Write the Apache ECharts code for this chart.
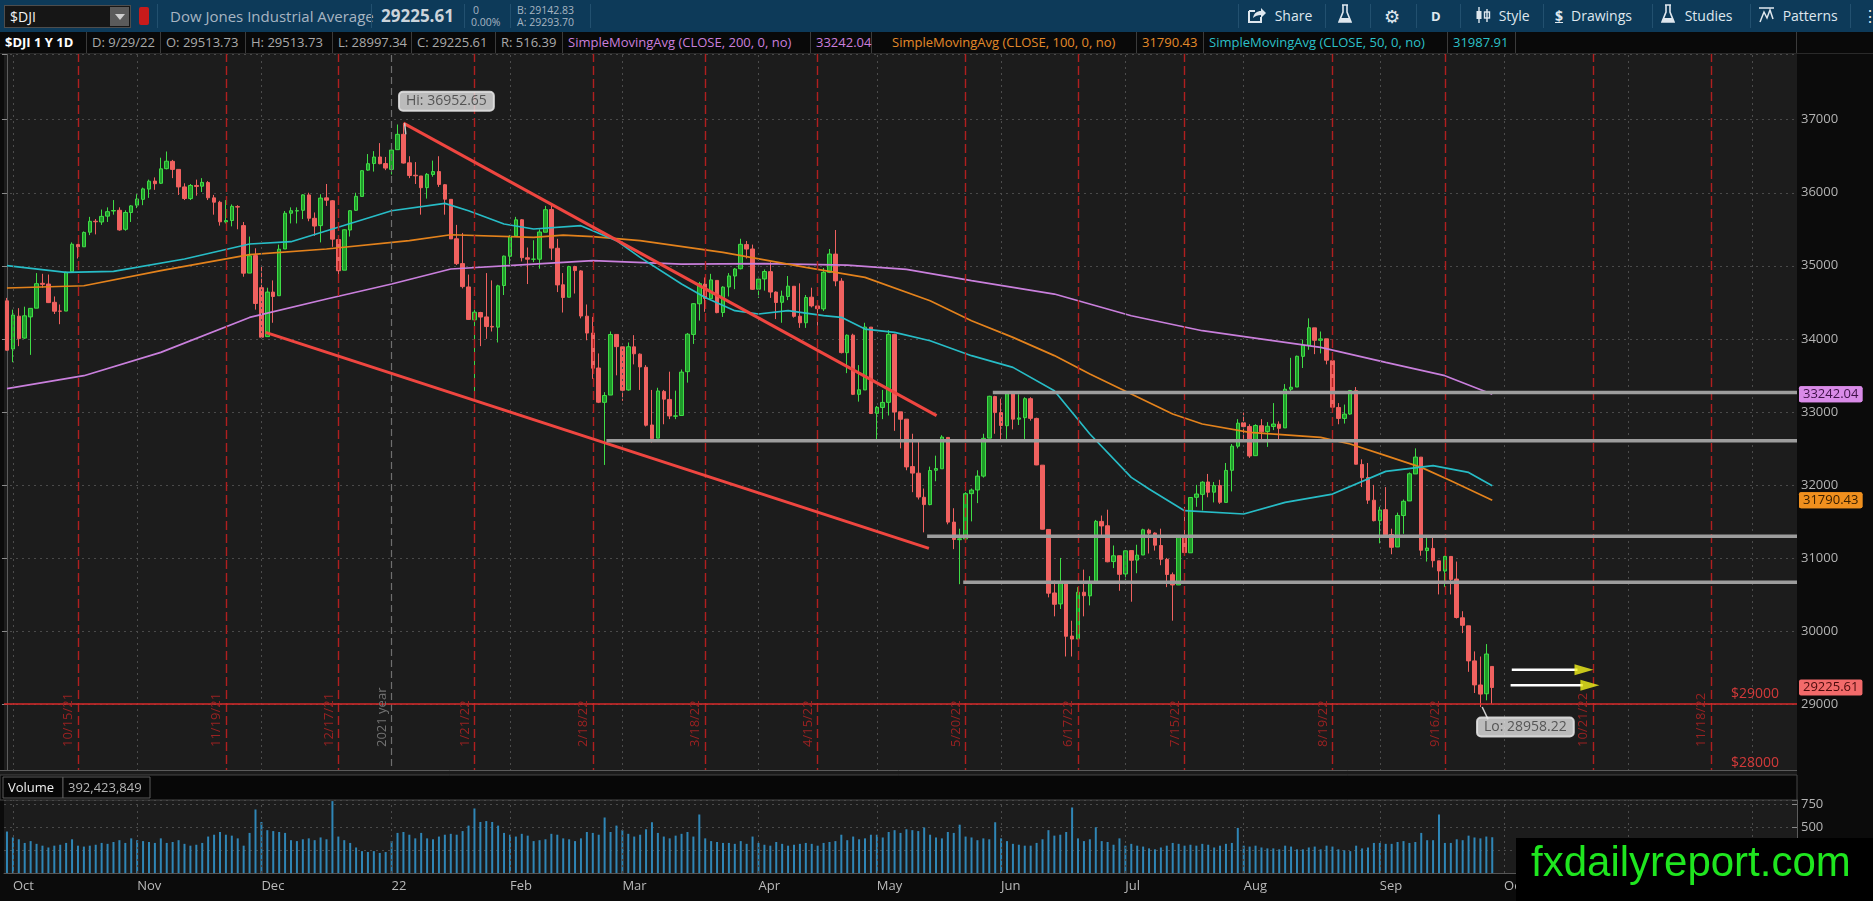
<!DOCTYPE html>
<html>
<head>
<meta charset="utf-8">
<title>$DJI 1 Y 1D</title>
<script src="https://cdn.jsdelivr.net/npm/echarts@6.0.0/dist/echarts.min.js"></script>
<style>
  html, body { margin: 0; padding: 0; background: #0b0b0b; overflow: hidden; }
  body { width: 1873px; height: 901px; position: relative; font-family: "Open Sans", "Noto Sans", sans-serif; }
  #chart { position: absolute; left: 0; top: 0; width: 1873px; height: 901px; }
  #toolbar { position: absolute; left: 0; top: 0; width: 1873px; height: 32px; background: #0d3a59; z-index: 5; }
  #legend { position: absolute; left: 0; top: 32px; width: 1873px; height: 22px; background: #090909; z-index: 5; border-bottom: 1px solid #2a2a2a; box-sizing: border-box; }
  .t { position: absolute; white-space: nowrap; color: #a7b5c2; }
  .vsep { position: absolute; top: 4px; width: 1px; height: 24px; background: #22506f; }
  .sym { position: absolute; left: 4px; top: 5px; width: 127px; height: 23px; background: #161616; border: 1px solid #4d4d4d; box-sizing: border-box; }
  .sym span { position: absolute; left: 5px; top: 0; line-height: 21px; font-size: 14px; color: #f2f2f2; }
  .sym i { position: absolute; right: 1px; top: 1px; width: 19px; height: 19px; background: #5b5b5b; }
  .sym i:after { content: ""; position: absolute; left: 5px; top: 7px; border-left: 5px solid transparent; border-right: 5px solid transparent; border-top: 6px solid #cfcfcf; }
  .flag { position: absolute; left: 139px; top: 7px; width: 10px; height: 18px; background: #c81b1b; border-radius: 2px; }
  .btn { position: absolute; top: 0; line-height: 32px; font-size: 14px; color: #dfe7ee; white-space: nowrap; }
  .btn svg { vertical-align: -3px; }
  .cell { position: absolute; top: 0; height: 21px; line-height: 21px; font-size: 13px; color: #a9a9a9; white-space: nowrap; padding-left: 5px; box-sizing: border-box; border-right: 1px solid #3b3b3b; }
</style>
</head>
<body>
<div id="chart"></div>

<div id="toolbar">
  <div class="sym"><span>$DJI</span><i></i></div>
  <div class="flag"></div>
  <div class="vsep" style="left:157px"></div>
  <div class="t" style="left:170px;top:0;line-height:32px;font-size:15px;">Dow Jones Industrial Average</div>
  <div class="vsep" style="left:371px"></div>
  <div class="t" style="left:381px;top:0;line-height:32px;font-size:17px;font-weight:700;color:#ccd4db;">29225.61</div>
  <div class="vsep" style="left:464px"></div>
  <div class="t" style="left:473px;top:4px;font-size:10.5px;line-height:12px;">0</div>
  <div class="t" style="left:471px;top:16px;font-size:10.5px;line-height:12px;">0.00%</div>
  <div class="vsep" style="left:510px"></div>
  <div class="t" style="left:517px;top:4px;font-size:10.5px;line-height:12px;">B: 29142.83</div>
  <div class="t" style="left:517px;top:16px;font-size:10.5px;line-height:12px;">A: 29293.70</div>
  <div class="vsep" style="left:590px"></div>

  <div class="vsep" style="left:1238px"></div>
  <div class="btn" style="left:1247px;">
    <svg width="19" height="17" viewBox="0 0 19 17"><path d="M2 4h6M2 4v11h12v-5" stroke="#dfe7ee" stroke-width="2" fill="none"/><path d="M6 11c1-5 4-7 8-7V1l5 5-5 5V8c-3 0-6 1-8 3z" fill="#dfe7ee"/></svg>
    <span style="margin-left:5px">Share</span></div>
  <div class="vsep" style="left:1325px"></div>
  <div class="btn" style="left:1338px;">
    <svg width="14" height="20" viewBox="0 0 14 20"><path d="M4 1h6M5 1v7L1 18h12L9 8V1" stroke="#dfe7ee" stroke-width="1.6" fill="none"/><path d="M3 14h8l2 4H1z" fill="#dfe7ee"/></svg></div>
  <div class="vsep" style="left:1370px"></div>
  <div class="btn" style="left:1384px;font-size:18px;">&#9881;</div>
  <div class="vsep" style="left:1416px"></div>
  <div class="btn" style="left:1431px;font-weight:700;font-size:13px;">D</div>
  <div class="vsep" style="left:1460px"></div>
  <div class="btn" style="left:1475px;">
    <svg width="16" height="18" viewBox="0 0 16 18"><path d="M4 1v16M12 3v13" stroke="#dfe7ee" stroke-width="1.4"/><rect x="1.5" y="5" width="5" height="8" fill="#dfe7ee"/><rect x="9.5" y="6" width="5" height="6" fill="none" stroke="#dfe7ee" stroke-width="1.4"/></svg>
    <span style="margin-left:4px">Style</span></div>
  <div class="vsep" style="left:1543px"></div>
  <div class="btn" style="left:1555px;"><span style="text-decoration:underline;font-weight:700;">$</span><span style="margin-left:8px">Drawings</span></div>
  <div class="vsep" style="left:1652px"></div>
  <div class="btn" style="left:1661px;">
    <svg width="14" height="20" viewBox="0 0 14 20"><path d="M4 1h6M5 1v7L1 18h12L9 8V1" stroke="#dfe7ee" stroke-width="1.6" fill="none"/><path d="M3 14h8l2 4H1z" fill="#dfe7ee"/></svg>
    <span style="margin-left:6px">Studies</span></div>
  <div class="vsep" style="left:1750px"></div>
  <div class="btn" style="left:1758px;">
    <svg width="17" height="18" viewBox="0 0 17 18"><path d="M1 2h15M2 16l4-10 3 6 3-8 3 9" stroke="#dfe7ee" stroke-width="1.5" fill="none"/></svg>
    <span style="margin-left:4px">Patterns</span></div>
  <div class="vsep" style="left:1850px"></div>
  <div class="btn" style="left:1862px;font-size:16px;">&#8942;</div>
</div>

<div id="legend">
  <div class="cell" style="left:0;width:87px;color:#ffffff;font-weight:700;">$DJI 1 Y 1D</div>
  <div class="cell" style="left:87px;width:74px;">D: 9/29/22</div>
  <div class="cell" style="left:161px;width:85px;">O: 29513.73</div>
  <div class="cell" style="left:246px;width:87px;">H: 29513.73</div>
  <div class="cell" style="left:333px;width:79px;">L: 28997.34</div>
  <div class="cell" style="left:412px;width:84px;">C: 29225.61</div>
  <div class="cell" style="left:496px;width:67px;">R: 516.39</div>
  <div class="cell" style="left:563px;width:248px;color:#c97fdc;">SimpleMovingAvg (CLOSE, 200, 0, no)</div>
  <div class="cell" style="left:811px;width:61px;color:#c97fdc;">33242.04</div>
  <div class="cell" style="left:872px;width:265px;color:#e3892a;padding-left:20px;">SimpleMovingAvg (CLOSE, 100, 0, no)</div>
  <div class="cell" style="left:1137px;width:67px;color:#e3892a;">31790.43</div>
  <div class="cell" style="left:1204px;width:244px;color:#2cc0c8;">SimpleMovingAvg (CLOSE, 50, 0, no)</div>
  <div class="cell" style="left:1448px;width:68px;color:#2cc0c8;">31987.91</div>
  <div class="cell" style="left:1516px;width:281px;"></div>
</div>

<script>
// trading calendar: weekdays minus NYSE holidays
const holidays = ["2021-11-25", "2021-12-24", "2022-01-17", "2022-02-21", "2022-04-15",
  "2022-05-30", "2022-06-20", "2022-07-04", "2022-09-05", "2022-11-24"];
const firstSession = "2021-09-30";
const lastAxisSession = "2022-12-12";

// daily OHLC, one line per month (Sep 30 2021 .. Sep 29 2022)
const openValues = [
  34520,
  33860, 34310, 34010, 34300, 34420, 34760, 34750, 34500, 34380, 34380, 34920, 35290, 35260, 35460, 35610, 35600, 35680, 35750, 35760, 35500, 35730,
  35830, 35910, 36050, 36160, 36130, 36330, 36430, 36320, 36080, 35920, 36100, 36090, 36140, 35930, 35870, 35600, 35620, 35810, 35550, 34900, 35140,
  34700, 34030, 34640, 34590, 35230, 35720, 35750, 35760, 35970, 35650, 35550, 35930, 35890, 35360, 34940, 35490, 35760, 35950, 36310, 36400, 36490, 36400,
  36320, 36590, 36800, 36410, 36240, 36230, 36070, 36250, 36290, 36110, 35910, 35370, 35030, 34710, 34260, 34360, 34300, 34170, 34160, 34730,
  35130, 35410, 35630, 35110, 35090, 35090, 35460, 35770, 35240, 34740, 34570, 34990, 34930, 34310, 34080, 33600, 33130, 33230, 34060,
  33890, 33300, 33890, 33790, 33610, 32820, 32640, 33280, 33170, 32940, 32950, 33550, 34060, 34480, 34750, 34550, 34800, 34360, 34710, 34860, 34960, 35290, 35230,
  34680, 34820, 34920, 34640, 34500, 34580, 34720, 34310, 34220, 34570, 34450, 34410, 34910, 35160, 34790, 33810, 34050, 33240, 33300, 34160,
  32980, 33060, 33130, 34060, 33000, 32900, 32250, 32160, 31830, 31730, 32200, 32220, 32650, 31490, 31250, 31260, 31880, 31930, 32120, 32640, 33210,
  32990, 32810, 33250, 32900, 32920, 33180, 32910, 32270, 31390, 30520, 30370, 30670, 29930, 29890, 30530, 30480, 30680, 31500, 31440, 30950, 31030,
  30780, 31100, 30970, 31040, 31380, 31340, 31170, 30980, 30770, 30630, 31290, 31070, 31830, 31870, 32040, 31900, 31990, 31760, 32200, 32530,
  32850, 32800, 32400, 32810, 32730, 32800, 32830, 32780, 33310, 33340, 33760, 33910, 34150, 33980, 34000, 33700, 33060, 32910, 32970, 33290, 32280, 32100, 31790,
  31510, 31660, 31320, 31150, 31580, 31780, 32150, 32380, 31100, 31130, 30960, 30820, 31020, 30710, 30180, 30070, 29590, 29260, 29140, 29514
];
const highValues = [
  34560,
  34400, 34420, 34440, 34420, 34900, 34890, 34880, 34580, 34470, 34920, 35320, 35300, 35470, 35670, 35640, 35770, 35800, 35900, 35800, 35760, 35830,
  35980, 36070, 36180, 36210, 36480, 36565, 36450, 36320, 36130, 36120, 36180, 36200, 36160, 35970, 35890, 35900, 35840, 35830, 35600, 35400, 35240,
  35000, 34700, 34800, 35290, 35750, 35800, 35800, 35980, 36000, 35730, 35980, 36120, 35900, 35360, 35500, 35760, 36000, 36310, 36530, 36570, 36680, 36490,
  36600, 36935, 36952.65, 36500, 36420, 36230, 36270, 36440, 36500, 36120, 35910, 35560, 35450, 34880, 34400, 34370, 34900, 34800, 34740, 35140,
  35420, 35670, 35640, 35250, 35350, 35500, 35820, 35830, 35370, 34900, 35000, 35000, 34940, 34470, 34300, 33800, 33270, 34100, 34060,
  33890, 33950, 34050, 33800, 33640, 33300, 33330, 33300, 33550, 33290, 33580, 34080, 34490, 34780, 34840, 34890, 34800, 34720, 34900, 34970, 35370, 35340, 35290,
  34850, 34950, 35050, 34650, 34660, 34860, 34720, 34760, 34600, 34700, 34500, 34970, 35230, 35490, 34830, 34060, 34070, 33640, 34220, 34160,
  33080, 33300, 34120, 34070, 33000, 32900, 32700, 32600, 31950, 32250, 32400, 32680, 32650, 31680, 31400, 31900, 31950, 32200, 32700, 33220, 33220,
  33180, 33250, 33250, 33240, 33200, 33200, 32920, 32270, 31390, 30690, 31000, 30670, 30140, 30600, 30840, 30750, 31520, 31580, 31660, 31170, 31030,
  31100, 31100, 31180, 31400, 31400, 31350, 31400, 31000, 30800, 31300, 31700, 31830, 32000, 32050, 32150, 32040, 32070, 32300, 32560, 32900,
  32990, 32830, 32830, 32900, 32860, 33120, 32870, 33380, 33740, 33770, 33990, 34280, 34150, 34100, 34000, 33700, 33120, 33100, 33300, 33340, 32350, 32300, 32000,
  31700, 31970, 31400, 31620, 31800, 32170, 32500, 32380, 31290, 31310, 30960, 31030, 31020, 30950, 30270, 30070, 29720, 29650, 29820, 29513.73
];
const lowValues = [
  33840,
  33680, 33900, 34000, 33780, 34420, 34700, 34490, 34340, 34200, 34380, 34920, 35100, 35260, 35420, 35430, 35560, 35600, 35700, 35480, 35480, 35600,
  35790, 35830, 35930, 36040, 36120, 36320, 36200, 35970, 35900, 35900, 35960, 36010, 35900, 35700, 35550, 35580, 35540, 35500, 34850, 34900, 34400,
  34006, 34030, 34220, 34590, 35230, 35580, 35580, 35640, 35610, 35410, 35320, 35820, 35260, 34800, 34940, 35400, 35750, 35950, 36300, 36290, 36390, 36310,
  36250, 36590, 36400, 36200, 36120, 35700, 35920, 36220, 36080, 35700, 35370, 35010, 34690, 34260, 33150, 33900, 34000, 34100, 33950, 34600,
  35020, 35400, 35060, 34750, 35050, 34960, 35460, 35080, 34640, 34360, 34570, 34620, 34280, 33980, 33450, 33120, 32273, 33230, 33500,
  33150, 33290, 33650, 33300, 32800, 32580, 32640, 32830, 32900, 32900, 32950, 33400, 33930, 34250, 34370, 34550, 34350, 34300, 34580, 34680, 34950, 35100, 34670,
  34560, 34660, 34560, 34270, 34220, 34530, 34290, 34150, 34150, 34430, 34180, 34380, 34900, 34720, 33800, 33530, 33230, 33140, 33300, 32970,
  32600, 32900, 32950, 32740, 32500, 32200, 31900, 31800, 31350, 31720, 32050, 32220, 31460, 31120, 30640, 31260, 31500, 31750, 32100, 32640, 32700,
  32620, 32630, 32760, 32820, 32600, 32880, 32270, 31390, 30460, 30200, 30300, 29650, 29650, 29890, 30200, 30350, 30680, 31300, 30940, 30860, 30550,
  30700, 30400, 30790, 31040, 31060, 31100, 30900, 30600, 30140, 30630, 31030, 31070, 31700, 31650, 31830, 31760, 31740, 31760, 31910, 32500,
  32630, 32370, 32400, 32600, 32520, 32750, 32620, 32780, 33260, 33340, 33600, 33850, 33790, 33800, 33650, 33030, 32830, 32840, 32960, 32280, 31970, 31740, 31500,
  31200, 31300, 31050, 31150, 31330, 31780, 32150, 31030, 30950, 30870, 30500, 30600, 30500, 30170, 29970, 29440, 29150, 28958.22, 29050, 28997.34
];
const closeValues = [
  33844,
  34326, 34003, 34315, 34417, 34755, 34746, 34496, 34378, 34378, 34913, 35295, 35259, 35457, 35609, 35603, 35677, 35741, 35757, 35491, 35730, 35820,
  35914, 36053, 36158, 36124, 36328, 36432, 36320, 36080, 35921, 36100, 36087, 36142, 35931, 35871, 35602, 35619, 35814, 35804, 34899, 35136, 34484,
  34022, 34640, 34580, 35227, 35719, 35754, 35755, 35971, 35651, 35544, 35927, 35898, 35365, 34932, 35493, 35754, 35951, 36302, 36398, 36489, 36398, 36338,
  36585, 36800, 36407, 36236, 36232, 36069, 36252, 36290, 36114, 35912, 35368, 35029, 34715, 34265, 34365, 34298, 34168, 34161, 34725, 35132,
  35405, 35629, 35111, 35090, 35091, 35463, 35768, 35242, 34738, 34566, 34989, 34934, 34312, 34079, 33597, 33132, 33224, 34059, 33893,
  33295, 33891, 33795, 33615, 32817, 32633, 33286, 33174, 32944, 32945, 33544, 34063, 34481, 34755, 34553, 34807, 34359, 34708, 34861, 34956, 35294, 35229, 34678,
  34818, 34922, 34641, 34497, 34584, 34721, 34308, 34220, 34565, 34451, 34412, 34911, 35161, 34793, 33811, 34049, 33240, 33302, 34161, 32977,
  33062, 33129, 34061, 32998, 32899, 32246, 32161, 31834, 31730, 32197, 32223, 32655, 31490, 31253, 31262, 31880, 31929, 32120, 32637, 33213, 32990,
  32813, 33248, 32900, 32916, 33180, 32911, 32273, 31393, 30517, 30365, 30669, 29927, 29889, 30530, 30483, 30677, 31501, 31438, 30947, 31029, 30775,
  31097, 30968, 31038, 31385, 31338, 31174, 30981, 30773, 30630, 31288, 31073, 31827, 31875, 32037, 31899, 31990, 31762, 32198, 32530, 32845,
  32798, 32396, 32813, 32727, 32803, 32833, 32774, 33310, 33337, 33761, 33912, 34152, 33980, 33999, 33707, 33064, 32910, 32969, 33292, 32283, 32099, 31791, 31510,
  31656, 31318, 31145, 31581, 31775, 32152, 32381, 31105, 31135, 30962, 30822, 31020, 30706, 30184, 30077, 29590, 29261, 29135, 29684, 29225.61
];
// daily volume, millions
const volumeValues = [
  455,
  390, 370, 330, 350, 320, 300, 280, 300, 310, 330, 370, 300, 290, 300, 310, 330, 320, 340, 360, 330, 380,
  360, 350, 340, 330, 380, 330, 340, 360, 320, 300, 310, 330, 400, 420, 450, 420, 410, 380, 300, 440, 697,
  560, 470, 460, 450, 440, 360, 350, 370, 380, 360, 390, 370, 789, 400, 360, 330, 280, 240, 230, 240, 220, 230,
  350, 440, 450, 420, 380, 440, 380, 370, 400, 420, 430, 420, 460, 520, 708, 560, 570, 560, 520, 440,
  420, 400, 430, 410, 350, 360, 370, 430, 420, 380, 370, 350, 380, 450, 440, 420, 609, 450, 520,
  470, 430, 400, 420, 480, 557, 440, 400, 380, 410, 430, 450, 400, 642, 380, 350, 340, 330, 330, 320, 350, 320, 400,
  330, 310, 300, 340, 320, 300, 310, 320, 330, 320, 300, 330, 340, 350, 420, 360, 400, 370, 380, 420,
  420, 390, 450, 470, 440, 480, 470, 460, 500, 420, 390, 380, 450, 440, 530, 400, 390, 360, 380, 370, 557,
  380, 350, 320, 310, 300, 300, 330, 370, 470, 410, 420, 450, 719, 380, 350, 370, 502, 350, 340, 310, 380,
  300, 320, 300, 290, 270, 260, 280, 300, 330, 320, 300, 310, 300, 320, 310, 280, 300, 320, 330, 495,
  300, 290, 300, 280, 270, 270, 260, 300, 290, 260, 260, 280, 290, 260, 300, 290, 260, 250, 240, 300, 270, 280, 330,
  330, 320, 320, 340, 350, 330, 340, 440, 360, 360, 642, 330, 330, 370, 360, 410, 390, 380, 400, 392.42
];

// moving averages: [session index, value]
const sma200Points = [[0, 33317], [13, 33495], [26, 33814], [41, 34293], [54, 34545], [65, 34750], [75, 34956],
  [89, 35024], [99, 35070], [114, 35024], [128, 35030], [142, 35010], [152, 34950], [163, 34796], [177, 34613],
  [190, 34316], [202, 34111], [210, 34020], [222, 33883], [233, 33677], [243, 33495], [251, 33242.04]];
const sma100Points = [[0, 34696], [13, 34727], [26, 34933], [41, 35152], [54, 35230], [68, 35344], [75, 35425],
  [89, 35390], [94, 35420], [99, 35400], [107, 35344], [121, 35183], [135, 34978], [145, 34841], [156, 34522],
  [163, 34248], [170, 34020], [177, 33770], [183, 33518], [190, 33245], [197, 32971], [202, 32834], [210, 32719],
  [222, 32650], [227, 32560], [233, 32400], [239, 32240], [244, 32057], [251, 31790.43]];
const sma50Points = [[0, 35001], [10, 34910], [18, 34923], [30, 35093], [41, 35298], [48, 35330], [55, 35504],
  [65, 35754], [74, 35854], [78, 35754], [84, 35572], [89, 35504], [97, 35549], [103, 35344], [107, 35115],
  [114, 34750], [118, 34567], [123, 34385], [127, 34340], [132, 34385], [138, 34317], [141, 34294], [145, 34134],
  [150, 34088], [156, 33974], [163, 33769], [170, 33609], [177, 33290], [183, 32697], [190, 32103], [193, 31943],
  [199, 31647], [209, 31601], [216, 31760], [224, 31874], [233, 32185], [241, 32263], [247, 32171], [251, 31987.91]];

// drawings: [index, price] pairs
const upperTrend = [[67, 36952.65], [157.1, 32948]];
const lowerTrend = [[43.7, 34088], [155.8, 31130]];
const levelStarts = [166.6, 101.3, 155.5, 161.6];
const levelValues = [33266, 32605, 31295, 30665];
const arrowFrom = [254.3, 254.1];
const arrowTo = [265.4, 266.3];
const arrowHead = [266.5, 267.5];
const arrowValues = [29470, 29255];
const expiryDates = ["2021-10-15", "2021-11-19", "2021-12-17", "2022-01-21", "2022-02-18", "2022-03-18",
  "2022-04-15", "2022-05-20", "2022-06-17", "2022-07-15", "2022-08-19", "2022-09-16", "2022-10-21", "2022-11-18"];
const monthNames = ["22", "Feb", "Mar", "Apr", "May", "Jun", "Jul", "Aug", "Sep", "Oct", "Nov", "Dec"];

const FONT = '"Open Sans", "Noto Sans", sans-serif';

function tradingDays(start, end) {
  const out = [];
  const d = new Date(start + "T12:00:00Z");
  const last = new Date(end + "T12:00:00Z");
  while (d <= last) {
    const iso = d.toISOString().slice(0, 10);
    const wd = d.getUTCDay();
    if (wd !== 0 && wd !== 6 && !holidays.includes(iso)) out.push(iso);
    d.setUTCDate(d.getUTCDate() + 1);
  }
  return out;
}

const sessions = tradingDays(firstSession, lastAxisSession);
const axisEnd = sessions.length - 0.5;
const monthStarts = sessions
  .map((s, i) => (i > 0 && s.slice(0, 7) !== sessions[i - 1].slice(0, 7) ? i : -1))
  .filter((i) => i >= 0);
const monthSet = new Set(monthStarts);
const yearStart = sessions.findIndex((s) => s.startsWith("2022"));

function shortDate(iso) {
  const [y, m, d] = iso.split("-");
  return `${+m}/${+d}/${y.slice(2)}`;
}

const candleRows = closeValues.map((c, i) => [openValues[i], c, lowValues[i], highValues[i]]);

function priceTag(value, bg, fg) {
  return {
    yAxis: value,
    lineStyle: { color: "rgba(0,0,0,0)", width: 0 },
    label: {
      show: true, position: "end", distance: 2, formatter: value.toFixed(2),
      backgroundColor: bg, color: fg, padding: [2, 4, 1, 4], borderRadius: 2, fontSize: 13,
    },
  };
}

function smaSeries(name, points, color, tag) {
  return {
    name, type: "line", xAxisIndex: 2, yAxisIndex: 0, data: points, showSymbol: false, silent: true,
    lineStyle: { color, width: 1.7 }, z: 4,
    markLine: tag ? { symbol: "none", silent: true, data: [priceTag(points[points.length - 1][1], tag[0], tag[1])] } : undefined,
  };
}

function drawLine(data, color, width, z) {
  return { type: "line", xAxisIndex: 2, yAxisIndex: 0, data, showSymbol: false, silent: true,
    lineStyle: { color, width }, z: z || 5 };
}

const chart = echarts.init(document.getElementById("chart"));

const series = [
  {
    name: "$DJI", type: "candlestick", xAxisIndex: 0, yAxisIndex: 0, data: candleRows, barWidth: 4, z: 3,
    itemStyle: { color: "#1f9a2a", color0: "#f0615f", borderColor: "#3fdc46", borderColor0: "#f0615f", borderWidth: 1 },
  },
  smaSeries("SMA200", sma200Points, "#c97fdc", ["#d98be8", "#3f1249"]),
  smaSeries("SMA100", sma100Points, "#e3821c", ["#f0901e", "#3b2000"]),
  smaSeries("SMA50", sma50Points, "#27bcc6", null),
  drawLine(upperTrend, "#ef4640", 3),
  drawLine(lowerTrend, "#ef4640", 3),
];

levelStarts.forEach((s, i) => {
  series.push(drawLine([[s, levelValues[i]], [axisEnd, levelValues[i]]], "#9d9d9d", 3.5, 5));
});

// month grid, expiry lines, year line and price level lines
series.push({
  type: "line", xAxisIndex: 2, yAxisIndex: 0, data: [], silent: true, z: 1,
  markLine: {
    symbol: "none", silent: true,
    lineStyle: { color: "#4c4c4c", type: [2, 4], width: 1 },
    label: { show: false },
    data: monthStarts.filter((i) => i !== yearStart).map((i) => ({ xAxis: i })),
  },
});
series.push({
  type: "line", xAxisIndex: 2, yAxisIndex: 0, data: [], silent: true, z: 2,
  markLine: {
    symbol: "none", silent: true,
    lineStyle: { color: "#b01f1f", type: [9, 4], width: 1.4 },
    label: { show: true, position: "insideStartTop", formatter: "{b}", color: "#9a2222", fontSize: 13, distance: [30, 3] },
    data: expiryDates.map((d) => ({ name: shortDate(d), xAxis: sessions.findIndex((s) => s > d) })),
  },
});
series.push({
  type: "line", xAxisIndex: 2, yAxisIndex: 0, data: [], silent: true, z: 2,
  markLine: {
    symbol: "none", silent: true,
    lineStyle: { color: "#6e6e6e", type: [7, 4], width: 1.2 },
    label: { show: true, position: "insideStartTop", formatter: "{b}", color: "#727272", fontSize: 13, distance: [30, 3] },
    data: [{ name: "2021 year", xAxis: yearStart }],
  },
});
series.push({
  type: "line", xAxisIndex: 2, yAxisIndex: 0, data: [], silent: true, z: 5,
  markLine: {
    symbol: "none", silent: true,
    data: [
      { yAxis: 29000, lineStyle: { color: "#d82a2a", width: 1.6, type: "solid" },
        label: { show: true, position: "insideEndTop", formatter: "$29000", color: "#d23a3a", fontSize: 14, distance: [18, 3] } },
      { yAxis: 28000, lineStyle: { color: "#d82a2a", width: 1.6, type: "solid" },
        label: { show: true, position: "insideEndTop", formatter: "$28000", color: "#d23a3a", fontSize: 14, distance: [18, 7] } },
    ],
  },
});

// right-axis price tags (last close and moving average values)
series.push({
  type: "line", xAxisIndex: 2, yAxisIndex: 0, data: [], silent: true, z: 20,
  markLine: {
    symbol: "none", silent: true,
    data: [
      priceTag(sma200Points[sma200Points.length - 1][1], "#d98be8", "#3f1249"),
      priceTag(sma100Points[sma100Points.length - 1][1], "#f0901e", "#3b2000"),
      priceTag(closeValues[closeValues.length - 1], "#f26a6a", "#4a0b0b"),
    ],
  },
});

// white arrows with yellow heads
arrowValues.forEach((v, i) => {
  series.push(drawLine([[arrowFrom[i], v], [arrowTo[i], v]], "#ffffff", 2.5, 6));
});
series.push({
  type: "scatter", xAxisIndex: 2, yAxisIndex: 0, silent: true, z: 7,
  data: arrowHead.map((x, i) => [x, arrowValues[i]]),
  symbol: "triangle", symbolRotate: -90, symbolSize: [11, 19],
  itemStyle: { color: "#f4f21c" },
});

// Hi / Lo callouts
series.push(drawLine([[67.2, 36952.65], [67.4, 36800]], "#cfcfcf", 1.5, 6));
series.push(drawLine([[249.3, 28958.22], [250.3, 28790]], "#cfcfcf", 1.5, 6));
series.push({
  type: "scatter", xAxisIndex: 0, yAxisIndex: 0, silent: true, z: 8, symbolSize: 0,
  data: [
    { value: [67, 36952.65], label: { formatter: "Hi: 36952.65", offset: [43, -22] } },
    { value: [249, 28958.22], label: { formatter: "Lo: 28958.22", offset: [45, 20] } },
  ],
  label: {
    show: true, position: "inside", backgroundColor: "#e4e4e4", color: "#3b3b3b", fontSize: 14,
    padding: [3, 7, 2, 7], borderRadius: 4, borderColor: "#f5f5f5", borderWidth: 1,
  },
});

// volume pane
series.push({
  name: "Volume", type: "bar", xAxisIndex: 1, yAxisIndex: 1, data: volumeValues, barWidth: 2, silent: true,
  itemStyle: { color: "#2f86b6" },
  markLine: {
    symbol: "none", silent: true, lineStyle: { color: "#4c4c4c", type: [2, 4], width: 1 }, label: { show: false },
    data: monthStarts.map((i) => ({ xAxis: sessions[i] })),
  },
});

chart.setOption({
  animation: false,
  backgroundColor: "#0b0b0b",
  textStyle: { fontFamily: FONT },
  grid: [
    { left: 4, top: 54, width: 1793, height: 723, show: true, backgroundColor: "#1c1c1c", borderWidth: 0 },
    { left: 4, top: 800, width: 1793, height: 73, show: true, backgroundColor: "#1c1c1c", borderWidth: 0 },
  ],
  xAxis: [
    { type: "category", gridIndex: 0, data: sessions, boundaryGap: true,
      axisLine: { show: false }, axisTick: { show: false }, axisLabel: { show: false }, splitLine: { show: false } },
    { type: "category", gridIndex: 1, data: sessions, boundaryGap: true,
      axisLine: { show: true, lineStyle: { color: "#555" } }, axisTick: { show: false }, splitLine: { show: false },
      axisLabel: {
        interval: (i) => monthSet.has(i),
        formatter: (v) => monthNames[(+v.slice(5, 7) + 11) % 12],
        align: "left", color: "#b9b9b9", fontSize: 13, margin: 7,
      } },
    { type: "value", gridIndex: 0, min: -0.5, max: axisEnd, show: false },
  ],
  yAxis: [
    { type: "value", gridIndex: 0, position: "right", min: 28000, max: 37900, interval: 1000, scale: true,
      axisLine: { show: true, lineStyle: { color: "#5c5c5c" } },
      axisTick: { show: true, inside: true, length: 5, lineStyle: { color: "#8a8a8a" } },
      axisLabel: { color: "#b4b4b4", fontSize: 13, margin: 4,
        formatter: (v) => (v % 1000 === 0 && v > 28000 && v <= 37000 ? String(v) : "") },
      splitLine: { lineStyle: { color: "#4a4a4a", type: [2, 4] } } },
    { type: "value", gridIndex: 1, position: "right", min: 0, max: 801, interval: 250,
      axisLine: { show: true, lineStyle: { color: "#5c5c5c" } },
      axisTick: { show: true, inside: true, length: 5, lineStyle: { color: "#8a8a8a" } },
      axisLabel: { color: "#b4b4b4", fontSize: 13, margin: 4, formatter: (v) => (v > 0 && v < 800 ? String(v) : "") },
      splitLine: { lineStyle: { color: "#4a4a4a", type: [2, 4] } } },
  ],
  graphic: [
    { type: "rect", z: 100, shape: { x: 0, y: 770, width: 1797, height: 5 }, style: { fill: "#1a1a1a" } },
    { type: "line", z: 101, shape: { x1: 0, y1: 770.5, x2: 1797, y2: 770.5 }, style: { stroke: "#5a5a5a", lineWidth: 1 } },
    { type: "rect", z: 100, shape: { x: 0, y: 775, width: 1797, height: 25 }, style: { fill: "#070707", stroke: "#474747", lineWidth: 1 } },
    { type: "rect", z: 101, shape: { x: 3, y: 777, width: 60, height: 21 }, style: { fill: "#070707", stroke: "#5a5a5a", lineWidth: 1 } },
    { type: "text", z: 102, style: { x: 8, y: 788, text: "Volume", fill: "#f0f0f0", font: "13px " + FONT, textVerticalAlign: "middle" } },
    { type: "rect", z: 101, shape: { x: 63, y: 777, width: 87, height: 21 }, style: { fill: "#070707", stroke: "#5a5a5a", lineWidth: 1 } },
    { type: "text", z: 102, style: { x: 68, y: 788, text: "392,423,849", fill: "#b5b5b5", font: "13px " + FONT, textVerticalAlign: "middle" } },
    { type: "rect", z: 110, shape: { x: 1516, y: 838, width: 357, height: 63 }, style: { fill: "#000000" } },
    { type: "text", z: 111, style: { x: 1531, y: 864, text: "fxdailyreport.com", fill: "#1fe61f",
      font: '42px "Liberation Sans", Arial, sans-serif', textVerticalAlign: "middle" } },
  ],
  series,
});
</script>
</body>
</html>
